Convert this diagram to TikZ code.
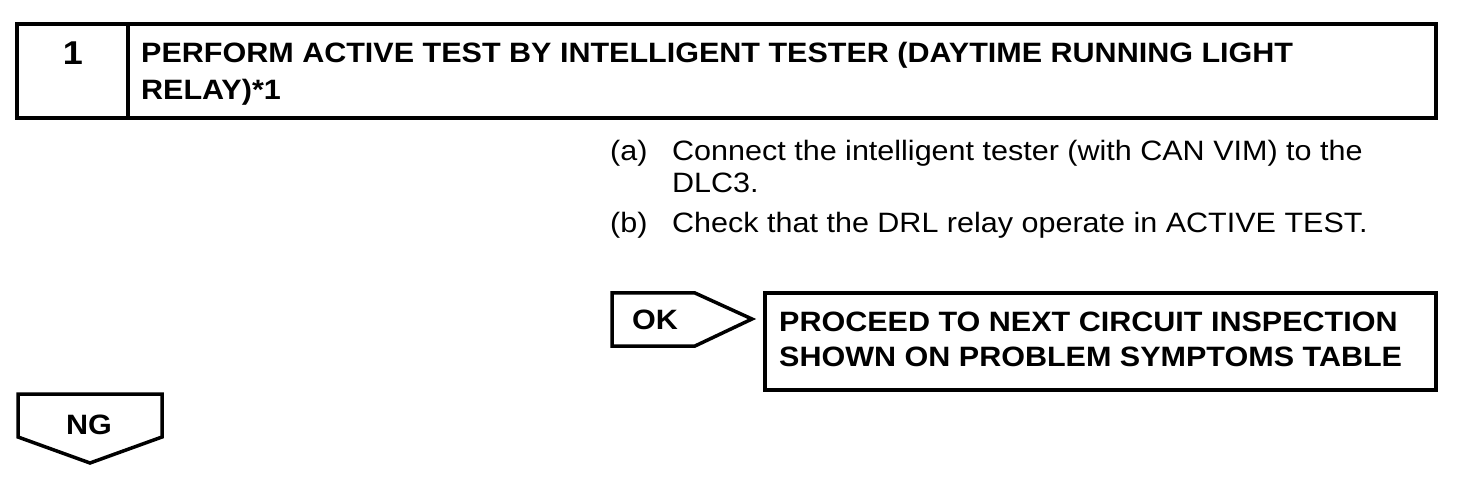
\documentclass[tikz,border=0pt]{standalone}
\usepackage{fontspec}
\setmainfont{Liberation Sans}[FakeStretch=1.09]
\usetikzlibrary{positioning}

\tikzset{
   frame/.style={draw=black, line width=3.5pt, line join=miter},
   headtext/.style={font=\bfseries\fontsize{28}{32}\selectfont, anchor=base west, inner sep=0pt},
   bodytext/.style={font=\fontsize{28}{32}\selectfont, anchor=base west, inner sep=0pt}
}

\begin{document}
\begin{tikzpicture}[x=1pt, y=-1pt]
            \useasboundingbox (0,0) rectangle (1472,478);
            % Step header
            \draw[frame] (17,24) rectangle (1436,118);
            \draw[frame] (128,24) -- (128,118);
            \node[headtext, anchor=base, font=\bfseries\fontsize{33}{36}\selectfont] (stepno) at (73,65) {1};
            \node[headtext] (title1) at (141,63) {PERFORM ACTIVE TEST BY INTELLIGENT TESTER (DAYTIME RUNNING LIGHT};
            \node[headtext] (title2) at (141,100) {RELAY)*1};
            % Procedure
            \node[bodytext] (itema) at (610,161) {(a)};
            \node[bodytext] (texta1) at (672,161) {Connect the intelligent tester (with CAN VIM) to the};
            \node[bodytext] (texta2) at (672,193) {DLC3.};
            \node[bodytext] (itemb) at (610,233) {(b)};
            \node[bodytext] (textb) at (672,233) {Check that the DRL relay operate in ACTIVE TEST.};
            % OK branch
            \draw[frame] (612,293) -- (695,293) -- (752,319) -- (695,346) -- (612,346) -- cycle;
            \node[headtext] (ok) at (632,329) {OK};
            \draw[frame] (765,293) rectangle (1436,390);
            \node[headtext] (next1) at (779,331) {PROCEED TO NEXT CIRCUIT INSPECTION};
            \node[headtext] (next2) at (779,366) {SHOWN ON PROBLEM SYMPTOMS TABLE};
            % NG branch
            \draw[frame] (18,394) -- (162,394) -- (162,437) -- (90,463) -- (18,437) -- cycle;
            \node[headtext, anchor=base] (ng) at (89,434) {NG};
         \end{tikzpicture}
\end{document}
